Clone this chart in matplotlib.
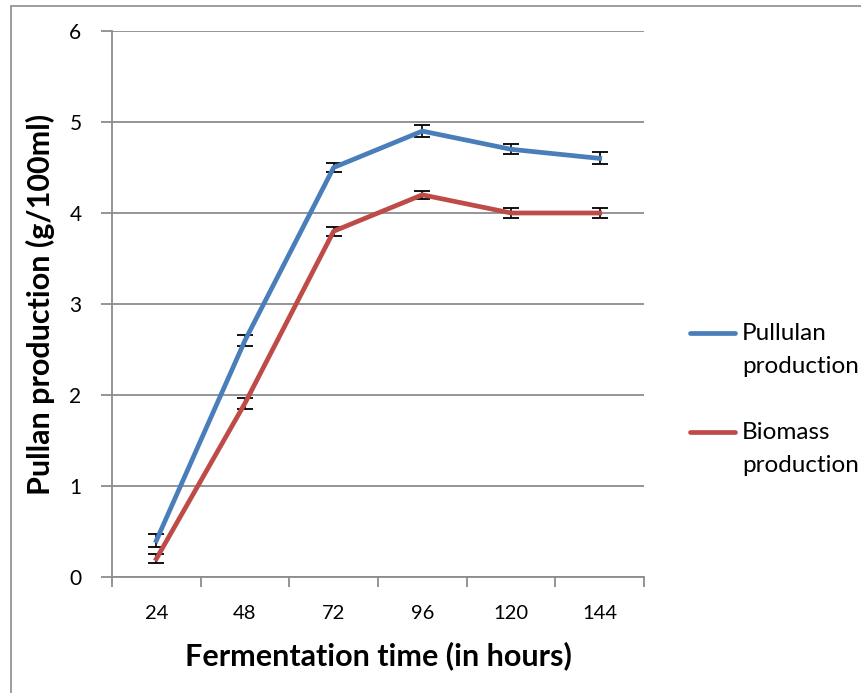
import numpy as np
import matplotlib.pyplot as plt
from matplotlib.patches import Rectangle
from matplotlib.lines import Line2D

hours = ['24', '48', '72', '96', '120', '144']
pullulan = [0.40, 2.60, 4.50, 4.90, 4.70, 4.60]
pullulan_err = [0.07, 0.06, 0.05, 0.065, 0.055, 0.065]
biomass = [0.20, 1.91, 3.80, 4.20, 4.00, 4.00]
biomass_err = [0.05, 0.06, 0.05, 0.045, 0.055, 0.05]
series_names = ['Pullulan\nproduction', 'Biomass\nproduction']
colors = ['#4A7EBB', '#BE4B48']

plt.rcParams['font.family'] = ['Lato', 'DejaVu Sans']

fig = plt.figure(figsize=(8.62, 6.93), dpi=100)
fig.patches.append(Rectangle((11 / 862, -0.1), 1.2, 1 - 6 / 693 + 0.1,
                             transform=fig.transFigure, fill=False,
                             edgecolor='#8c8c8c', linewidth=1.2))

ax = fig.add_axes([112 / 862, 1 - 577 / 693, 532 / 862, 546 / 693])
x = np.arange(len(hours))

for vals, err, c in [(pullulan, pullulan_err, colors[0]), (biomass, biomass_err, colors[1])]:
    ax.errorbar(x, vals, yerr=err, color=c, linewidth=3.4,
                ecolor='black', elinewidth=1.2, capsize=5.5, capthick=1.3, zorder=3)

ax.set_xlim(-0.5, len(hours) - 0.5)
ax.set_ylim(0, 6)
ax.set_yticks(range(0, 7))
ax.yaxis.grid(True, color='#8c8c8c', linewidth=1.3)
ax.set_axisbelow(True)

# tick marks between categories, labels at centres
ax.set_xticks(np.arange(-0.5, len(hours)), [''] * (len(hours) + 1))
ax.set_xticks(x, hours, minor=True)
ax.tick_params(axis='x', which='major', length=7, width=1.3, color='#8c8c8c', direction='out')
ax.tick_params(axis='x', which='minor', length=0, labelsize=14.5, pad=20)
ax.tick_params(axis='y', length=8, width=1.3, color='#8c8c8c', labelsize=15, pad=14)

for s in ['top', 'right']:
    ax.spines[s].set_visible(False)
for s in ['left', 'bottom']:
    ax.spines[s].set_color('#8c8c8c')
    ax.spines[s].set_linewidth(1.3)

ax.set_xlabel('Fermentation time (in hours)', fontsize=22, fontweight='bold', labelpad=14)
ax.set_ylabel('Pullan production (g/100ml)', fontsize=22, fontweight='bold', labelpad=10)

# legend, handle level with the first text line
for i, (name, c) in enumerate(zip(series_names, colors)):
    yl = 1 - (333 + 99 * i) / 693
    fig.add_artist(Line2D([690 / 862, 735 / 862], [yl, yl], transform=fig.transFigure,
                          color=c, linewidth=3.4, solid_capstyle='round'))
    fig.text(742 / 862, yl + 10 / 693, name, fontsize=17.5, va='top', ha='left',
             linespacing=1.7)

fig.savefig('out.png', dpi=100)
